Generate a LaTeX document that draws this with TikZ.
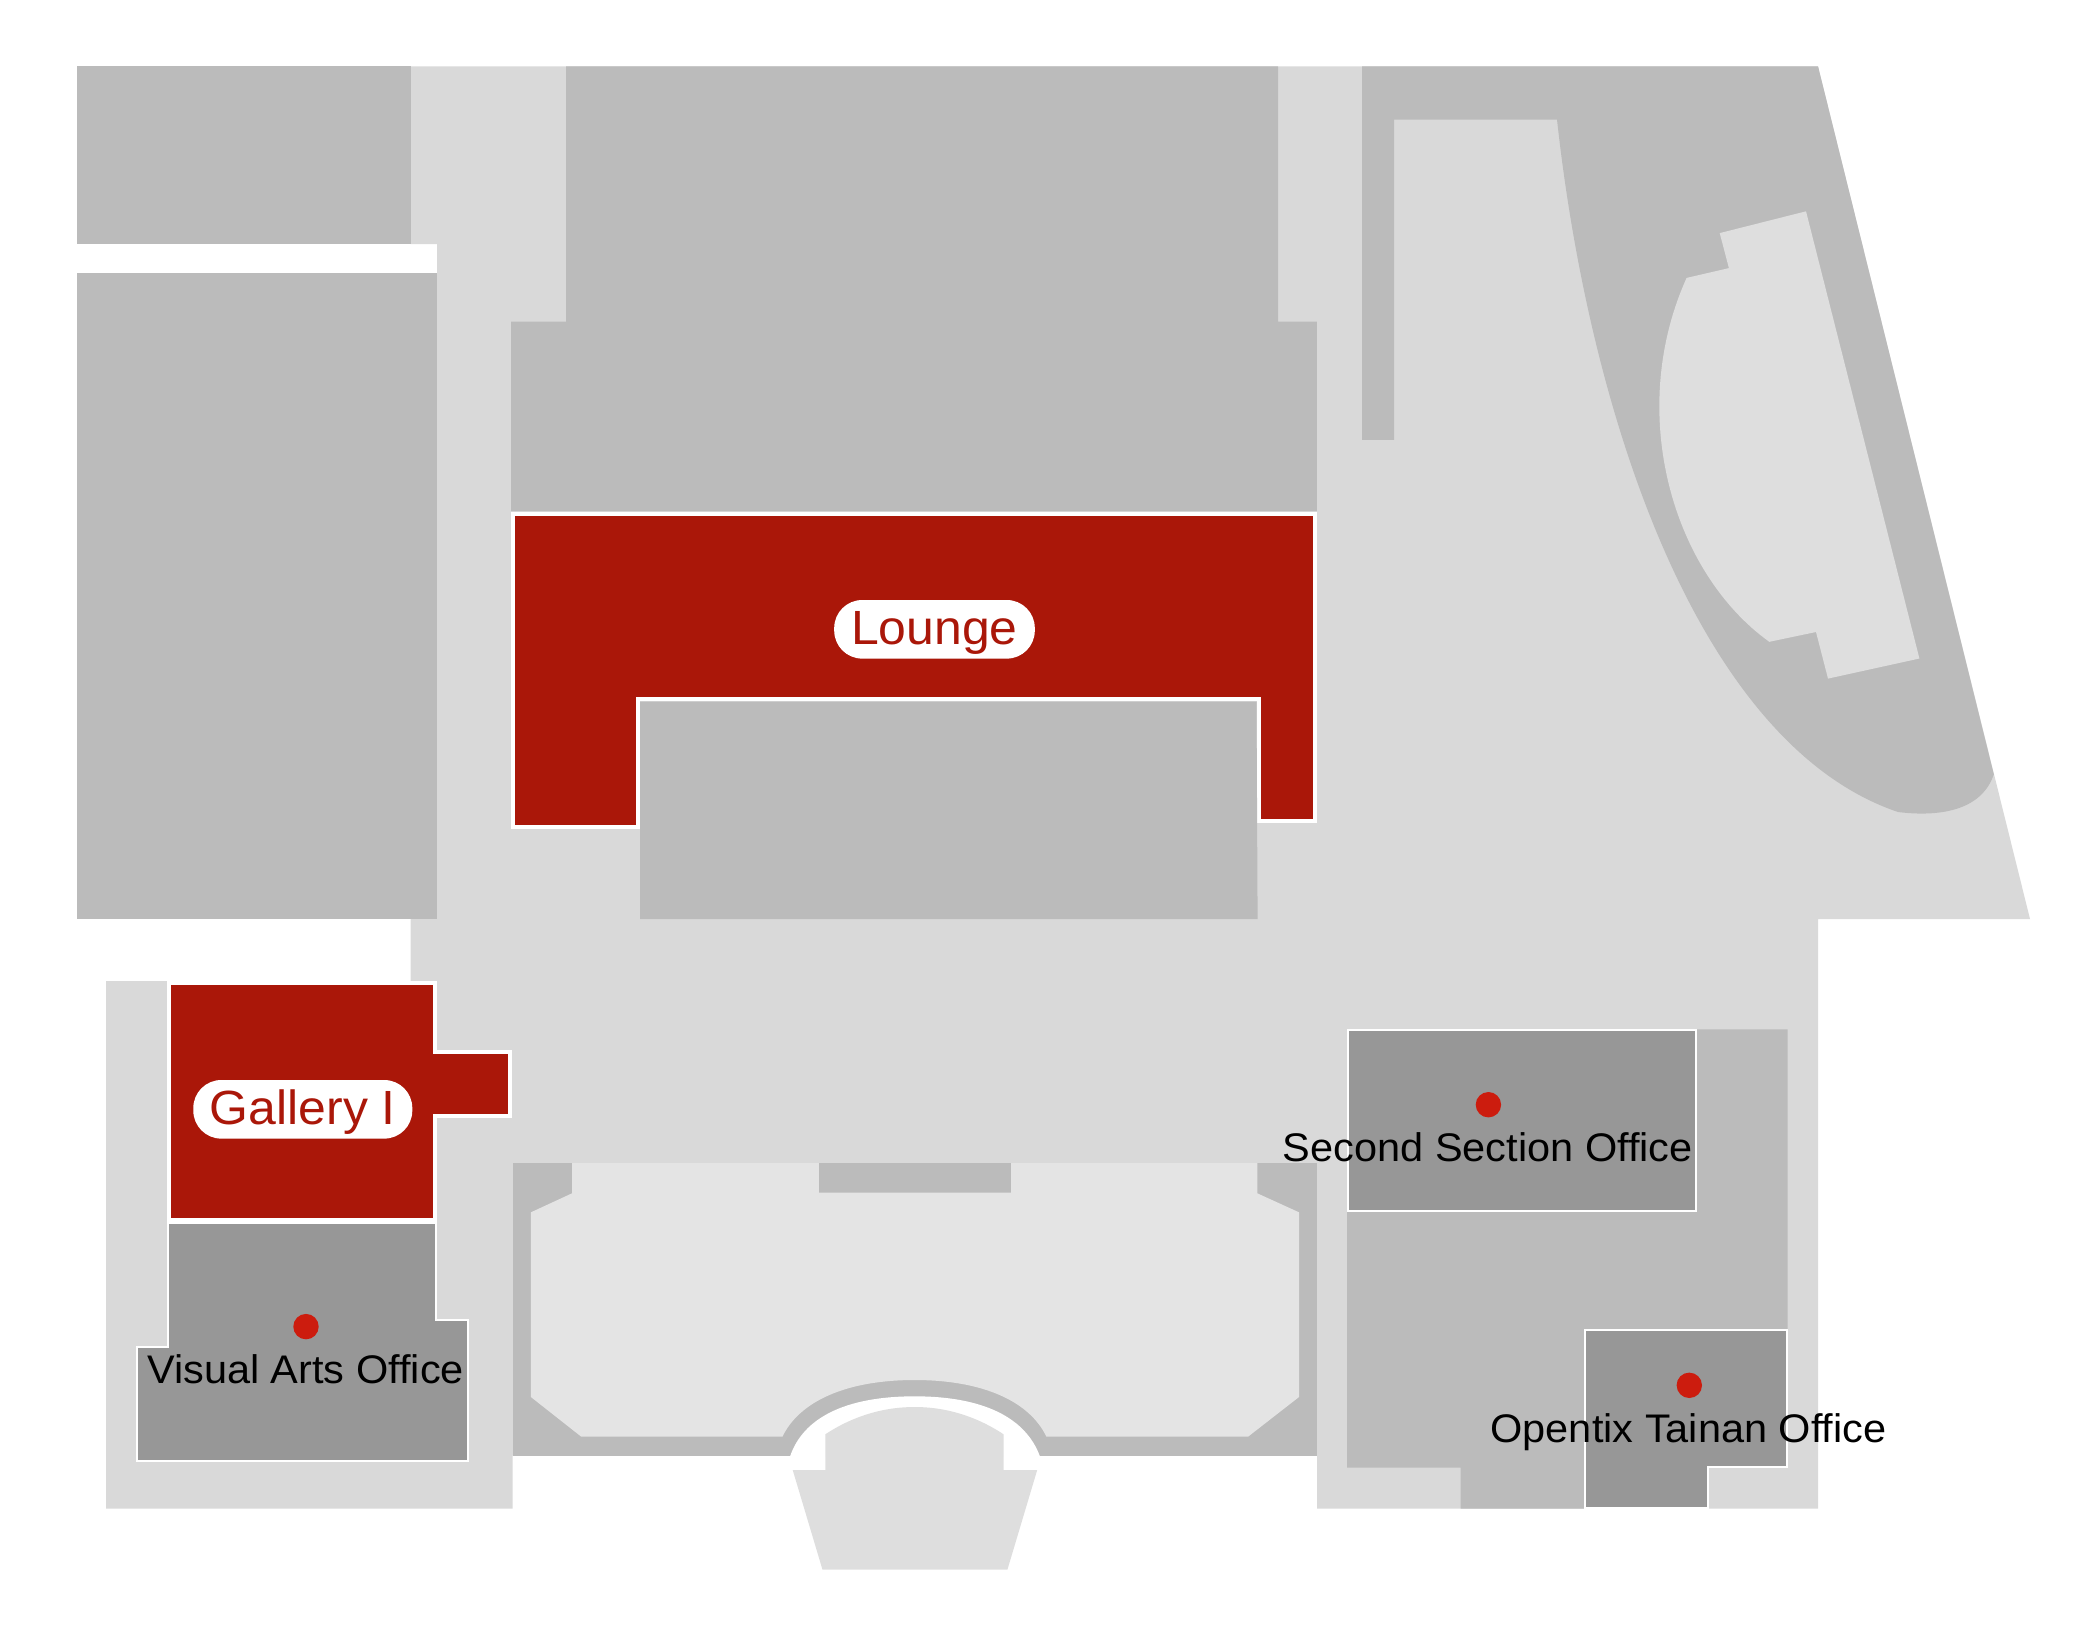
\documentclass[tikz,border=0pt]{standalone}
\usepackage{fontspec}
\setmainfont[FakeStretch=1.04]{Liberation Sans}
\definecolor{floorlight}{HTML}{D9D9D9}
\definecolor{floordark}{HTML}{BBBBBB}
\definecolor{officegrey}{HTML}{979797}
\definecolor{roomred}{HTML}{AA1709}
\definecolor{halllight}{HTML}{E4E4E4}
\definecolor{stagelight}{HTML}{DEDEDE}
\definecolor{dotred}{HTML}{CC1C0E}
\tikzset{
    roomshape/.style = {fill = roomred, draw = white, line width = 2pt},
    officeshape/.style = {fill = officegrey, draw = white, line width = 1pt},
    officedot/.style = {circle, fill = dotred, inner sep = 0pt, minimum size = 12.7pt},
    officelabel/.style = {font = \fontsize{19.95pt}{21pt}\selectfont, text = black, inner sep = 0pt, anchor = base},
    roomlabel/.style = {font = \fontsize{24pt}{25pt}\selectfont, text = roomred, fill = white, rounded corners = 14pt, inner xsep = 0pt, inner ysep = 0pt, text height = 22.15pt, text depth = 7.15pt, anchor = center}
}
\begin{document}
\begin{tikzpicture}[x = .5pt, y = -.5pt]
    \useasboundingbox (0,0) rectangle (2094,1635);

    % Draw the corridors:
    \fill [floorlight] (410.7,66.3) -- (1818,66.3) -- (2030,919) -- (1818,919) -- (1818,1508.6)
        -- (1317,1508.6) -- (1317,1455.7) -- (512.7,1455.7) -- (512.7,1508.6) -- (106,1508.6)
        -- (106,981) -- (410.7,981) -- (410.7,919) -- (437.1,919) -- (437.1,244) -- (410.7,244) -- cycle;

    % Draw the grey blocks:
    \fill [floordark] (76.8,66.3) rectangle (410.7,244);
    \fill [floordark] (76.8,273) rectangle (437.1,919);
    \fill [floordark] (566,66.3) -- (1278,66.3) -- (1278,321.7) -- (1316.8,321.7) -- (1316.8,511)
        -- (511,511) -- (511,321.7) -- (566,321.7) -- cycle;
    \fill [floordark] (1362,66.3) -- (1818,66.3) -- (1993.8,774.4)
        .. controls (1980,815) and (1930,816) .. (1898,812)
        .. controls (1700,745) and (1590,420) .. (1557,119.5)
        -- (1394.2,119.5) -- (1394.2,439.8) -- (1362,439.8) -- cycle;
    \fill [floordark] (1347.2,1029.3) -- (1787.7,1029.3) -- (1787.7,1467.6) -- (1590,1467.6) -- (1590,1508.6)
        -- (1460.7,1508.6) -- (1460.7,1467.6) -- (1347.2,1467.6) -- cycle;

    % Draw the island and the hall:
    \fill [stagelight] (1719.7,233.1) -- (1806,211.3) -- (1919.4,658.5) -- (1828,678.6) -- (1816,632)
        -- (1769.3,641.8) .. controls (1672,572) and (1626,412) .. (1686.6,277.9)
        -- (1728.9,268.1) -- cycle;
    \fill [floordark] (512.5,1163) rectangle (1317,1455.7);
    \fill [halllight] (572,1163) -- (818.8,1163) -- (818.8,1192.7) -- (1011.2,1192.7) -- (1011.2,1163)
        -- (1257.3,1163) -- (1257.3,1193.3) -- (1299,1212.3) -- (1299,1397) -- (1248,1436.7)
        -- (1046.4,1436.7) .. controls (1030,1402) and (984,1380) .. (914.7,1380)
        .. controls (845,1380) and (799,1402) .. (782.4,1436.7)
        -- (581.3,1436.7) -- (530.9,1397) -- (530.9,1212.3) -- (572,1193.3) -- cycle;
    \fill [white] (1040,1456.5) .. controls (1026,1418) and (984,1396.3) .. (914.7,1396.3)
        .. controls (845,1396.3) and (803,1418) .. (790,1456.5) -- cycle;
    \fill [stagelight] (825.3,1434.3) .. controls (850,1418) and (880,1407) .. (914.7,1407)
        .. controls (949,1407) and (979,1418) .. (1003.6,1434.3)
        -- (1003.6,1470) -- (1037.2,1470) -- (1007.4,1569.7) -- (822.5,1569.7) -- (792.7,1470)
        -- (825.3,1470) -- cycle;

    % Draw the offices:
    \draw [officeshape] (167.7,1223) -- (436,1223) -- (436,1320) -- (468,1320) -- (468,1461)
        -- (137.3,1461) -- (137.3,1346.6) -- (167.7,1346.6) -- cycle;
    \draw [officeshape] (1348,1030) rectangle (1696,1210.7);
    \draw [officeshape] (1585.3,1329.9) -- (1786.9,1329.9) -- (1786.9,1467) -- (1707.8,1467)
        -- (1707.8,1507.6) -- (1585.3,1507.6) -- cycle;

    % Draw the red rooms:
    \draw [roomshape] (168.7,983) -- (435,983) -- (435,1052) -- (510,1052) -- (510,1116) -- (435,1116)
        -- (435,1220) -- (168.7,1220) -- cycle;
    \draw [roomshape] (513,513.8) -- (1314.8,513.8) -- (1314.8,820.5) -- (1258.7,820.5) -- (1258.7,699.3)
        -- (638,699.3) -- (638,826.7) -- (513,826.7) -- cycle;
    \fill [floordark] (640.2,701.7) -- (1256.5,701.7) -- (1257.6,919) -- (640.2,919) -- cycle;

    % Draw the labels:
    \node [roomlabel, minimum width = 100.3pt] (Lounge) at (934.5,629.3) {Lounge};
    \node [roomlabel, minimum width = 109.5pt] (GalleryI) at (302.8,1109.3) {Gallery I};

    \node [officedot] (VisualDot) at (306,1326.6) {};
    \node [officedot] (SecondDot) at (1488.4,1104.7) {};
    \node [officedot] (OpentixDot) at (1689.3,1385.3) {};
    \node [officelabel] (VisualLabel) at (305.5,1383.5) {Visual Arts Office};
    \node [officelabel] (SecondLabel) at (1487.8,1161.5) {Second Section Office};
    \node [officelabel] (OpentixLabel) at (1688.5,1442) {Opentix Tainan Office};
\end{tikzpicture}
\end{document}
